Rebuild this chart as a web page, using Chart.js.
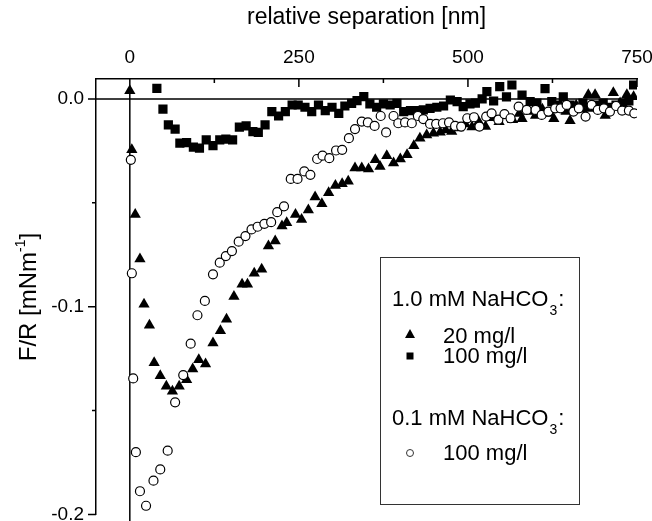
<!DOCTYPE html>
<html>
<head>
<meta charset="utf-8">
<script src="https://cdn.jsdelivr.net/npm/chart.js@4.4.0/dist/chart.umd.min.js"></script>
<style>
  body { margin: 0; background: #fff; }
  #wrap { width: 652px; height: 521px; }
</style>
</head>
<body>
<div id="wrap"><canvas id="chartForce" width="652" height="521"></canvas></div>
<script>
// 1.0 mM NaHCO3, 20 mg/l (filled triangles)
var triX = [0, 3, 8, 15, 21, 29, 36, 45, 54, 63, 73, 84, 93, 102, 112, 123, 134, 143, 154, 166,
  174, 184, 195, 205, 215, 225, 232, 245, 254, 264, 274, 284, 294, 304, 314, 323, 333, 343, 353, 363,
  370, 380, 390, 400, 410, 420, 429, 439, 449, 459, 467, 476, 486, 496, 506, 516, 526, 536, 546, 556,
  566, 576, 580, 590, 600, 610, 620, 627, 636, 645, 651, 660, 669, 678, 688, 697, 703, 715, 725, 735, 745];
var triY = [0.004, -0.0245, -0.0556, -0.077, -0.0988, -0.1089, -0.127, -0.1332, -0.1383, -0.1407, -0.1383, -0.1351, -0.130, -0.1255, -0.1276, -0.1175, -0.1116, -0.106, -0.0951, -0.0892,
  -0.0892, -0.0839, -0.082, -0.0708, -0.0684, -0.0612, -0.0596, -0.0556, -0.058, -0.0535, -0.0472, -0.0504, -0.0452, -0.0417, -0.0408, -0.0396, -0.0332, -0.0332, -0.0337, -0.0293,
  -0.0325, -0.0273, -0.0308, -0.0289, -0.0269, -0.0225, -0.0189, -0.0173, -0.0165, -0.016, -0.015, -0.0157, -0.014, -0.012, -0.0135, -0.011, -0.0133, -0.009, -0.011, -0.008,
  -0.010, -0.007, -0.0095, -0.006, -0.008, -0.005, -0.007, -0.0095, -0.004, -0.006, -0.0105, -0.003, -0.005, 0.002, 0.002, -0.004, -0.008, 0.003, -0.002, 0.002, 0.001];

// 1.0 mM NaHCO3, 100 mg/l (filled squares)
var sqX = [40, 49, 57, 67, 74, 84, 94, 103, 113, 123, 133, 142, 152, 162, 172, 182, 190, 200, 210, 220,
  230, 240, 249, 259, 269, 279, 289, 299, 309, 318, 328, 336, 346, 355, 365, 375, 385, 395, 405, 415,
  425, 434, 444, 454, 464, 474, 484, 493, 503, 511, 521, 528, 538, 547, 557, 565, 580, 592, 602, 614,
  624, 633, 641, 651, 660, 670, 680, 690, 700, 709, 719, 729, 738, 745];
var sqY = [0.0051, -0.0049, -0.0125, -0.0145, -0.0213, -0.021, -0.0232, -0.0237, -0.0197, -0.0225, -0.0197, -0.0193, -0.0197, -0.0136, -0.013, -0.0157, -0.0161, -0.0125, -0.0061, -0.0082,
  -0.0061, -0.0029, -0.0029, -0.004, -0.0061, -0.0029, -0.0056, -0.004, -0.0069, -0.0034, -0.0021, -0.0008, 0.0011, -0.0024, -0.004, -0.0024, -0.0029, -0.0021, -0.0061, -0.0056,
  -0.0056, -0.0053, -0.0045, -0.004, -0.0034, -0.0005, -0.0013, -0.0037, -0.0024, -0.002, 0.0, 0.0035, -0.001, 0.0059, 0.001, 0.0067, 0.0019, -0.0013, -0.002, 0.005,
  -0.0013, -0.003, 0.001, -0.003, -0.004, -0.002, -0.004, -0.003, -0.002, -0.004, -0.003, -0.002, -0.001, 0.0067];

// 0.1 mM NaHCO3, 100 mg/l (open circles)
var circX = [1.5, 3, 5, 9, 15, 24, 35, 45, 56, 67, 79, 90, 100, 111, 123, 133, 142, 151, 161, 171,
  180, 189, 199, 209, 218, 228, 238, 248, 258, 267, 277, 285, 295, 305, 314, 324, 333, 343, 352, 362,
  371, 379, 390, 397, 407, 417, 426, 434, 444, 453, 463, 472, 481, 490, 499, 509, 517, 527, 535, 545,
  554, 563, 575, 587, 600, 609, 619, 629, 637, 646, 656, 664, 674, 683, 692, 701, 710, 719, 728, 738, 746];
var circY = [-0.0293, -0.0839, -0.1345, -0.170, -0.1888, -0.1958, -0.1837, -0.1783, -0.1693, -0.146, -0.1329, -0.1178, -0.1041, -0.0972, -0.0844, -0.0788, -0.0756, -0.0732, -0.0687, -0.066,
  -0.0628, -0.0615, -0.0601, -0.0593, -0.0545, -0.0517, -0.0385, -0.0385, -0.0349, -0.0365, -0.0289, -0.0273, -0.0285, -0.0248, -0.0245, -0.0189, -0.0145, -0.0109, -0.0113, -0.013,
  -0.0082, -0.0161, -0.0082, -0.0117, -0.0113, -0.0117, -0.0082, -0.0097, -0.012, -0.012, -0.0117, -0.0113, -0.013, -0.0133, -0.0093, -0.0088, -0.0133, -0.0085, -0.0069, -0.010,
  -0.0073, -0.0093, -0.0037, -0.0053, -0.0053, -0.0077, -0.0061, -0.0045, -0.0045, -0.0029, -0.0061, -0.0045, -0.0085, -0.0029, -0.0053, -0.0045, -0.0061, -0.0034, -0.0056, -0.0056, -0.0069];

// ticks
var xMajor = [0, 250, 500, 750];
var xMinor = [125, 375, 625];
var yMajor = [0, -0.1, -0.2];
var yMinor = [-0.05, -0.15];

var FONT = '"Liberation Sans", Arial, sans-serif';

function toPoints(xs, ys) {
  return xs.map(function (x, i) {
    return { x: x, y: ys[i] };
  });
}

function tickList(major, minor) {
  return major.concat(minor).sort(function (a, b) { return a - b; }).map(function (v) {
    return { value: v };
  });
}

// keep the plot box where the reference has it
function noPad(scale) {
  scale.paddingLeft = 0;
  scale.paddingRight = 0;
  scale.paddingTop = 0;
  scale.paddingBottom = 0;
}

// zero lines, tick marks, legend box and y title
var axisDecor = {
  id: 'axisDecor',
  beforeDatasetsDraw: function (chart) {
    var ctx = chart.ctx;
    var a = chart.chartArea;
    var xs = chart.scales.x;
    var ys = chart.scales.y;
    ctx.save();
    ctx.strokeStyle = '#000';
    ctx.lineWidth = 1.5;
    ctx.beginPath();
    var y0 = ys.getPixelForValue(0);
    var x0 = xs.getPixelForValue(0);
    ctx.moveTo(a.left, y0);
    ctx.lineTo(a.right, y0);
    ctx.moveTo(x0, a.top);
    ctx.lineTo(x0, chart.height);
    xMajor.forEach(function (v) {
      var p = xs.getPixelForValue(v);
      ctx.moveTo(p, a.top);
      ctx.lineTo(p, a.top + 8);
    });
    xMinor.forEach(function (v) {
      var p = xs.getPixelForValue(v);
      ctx.moveTo(p, a.top);
      ctx.lineTo(p, a.top + 4);
    });
    yMajor.forEach(function (v) {
      var p = ys.getPixelForValue(v);
      ctx.moveTo(a.left - 8, p);
      ctx.lineTo(a.left, p);
    });
    yMinor.forEach(function (v) {
      var p = ys.getPixelForValue(v);
      ctx.moveTo(a.left - 4, p);
      ctx.lineTo(a.left, p);
    });
    ctx.stroke();
    ctx.restore();
  },
  afterDraw: function (chart) {
    var ctx = chart.ctx;
    ctx.save();
    ctx.fillStyle = '#000';
    ctx.textBaseline = 'alphabetic';
    ctx.textAlign = 'left';

    // y axis title with superscript
    ctx.save();
    ctx.translate(27, 297);
    ctx.rotate(-Math.PI / 2);
    ctx.font = '24px ' + FONT;
    var t1 = 'F/R [mNm';
    var w1 = ctx.measureText(t1).width;
    ctx.font = '14px ' + FONT;
    var w2 = ctx.measureText('-1').width;
    ctx.font = '24px ' + FONT;
    var w3 = ctx.measureText(']').width;
    var sx = -(w1 + w2 + w3) / 2;
    ctx.fillText(t1, sx, 9);
    ctx.font = '14px ' + FONT;
    ctx.fillText('-1', sx + w1, -2);
    ctx.font = '24px ' + FONT;
    ctx.fillText(']', sx + w1 + w2, 9);
    ctx.restore();

    // legend box
    ctx.strokeStyle = '#333';
    ctx.lineWidth = 1;
    ctx.strokeRect(380.5, 257.5, 199, 247);

    function header(txt, x, y) {
      ctx.font = '22px ' + FONT;
      ctx.fillText(txt, x, y);
      var w = ctx.measureText(txt).width;
      ctx.font = '14px ' + FONT;
      ctx.fillText('3', x + w + 1, y + 9);
      var ws = ctx.measureText('3').width;
      ctx.font = '22px ' + FONT;
      ctx.fillText(':', x + w + ws + 2, y);
    }
    header('1.0 mM NaHCO', 392, 306);
    header('0.1 mM NaHCO', 392, 425);

    ctx.font = '22px ' + FONT;
    ctx.fillText('20 mg/l', 443, 343);
    ctx.fillText('100 mg/l', 443, 363);
    ctx.fillText('100 mg/l', 443, 460);

    // legend markers
    ctx.beginPath();
    ctx.moveTo(410, 329);
    ctx.lineTo(405, 338);
    ctx.lineTo(415, 338);
    ctx.closePath();
    ctx.fill();
    ctx.fillRect(406.5, 352.5, 7, 7);
    ctx.beginPath();
    ctx.arc(410, 453, 3.5, 0, Math.PI * 2);
    ctx.fillStyle = '#fff';
    ctx.fill();
    ctx.stroke();
    ctx.restore();
  }
};

var configScatter = {
  type: 'scatter',
  data: {
    datasets: [
      {
        label: '0.1 mM NaHCO3, 100 mg/l',
        data: toPoints(circX, circY),
        pointStyle: 'circle',
        pointRadius: 4.5,
        backgroundColor: '#fff',
        borderColor: '#000',
        borderWidth: 1.2,
        clip: 0,
      },
      {
        label: '1.0 mM NaHCO3, 20 mg/l',
        data: toPoints(triX, triY),
        pointStyle: 'triangle',
        pointRadius: 6.5,
        backgroundColor: '#000',
        borderColor: '#000',
        borderWidth: 0,
        clip: 0,
      },
      {
        label: '1.0 mM NaHCO3, 100 mg/l',
        data: toPoints(sqX, sqY),
        pointStyle: 'rect',
        pointRadius: 6.5,
        backgroundColor: '#000',
        borderColor: '#000',
        borderWidth: 0,
        clip: 0,
      },
    ],
  },
  options: {
    responsive: false,
    animation: false,
    layout: { padding: { left: 0, right: 15, top: 0, bottom: 6 } },
    plugins: {
      legend: { display: false },
      tooltip: { enabled: false },
    },
    scales: {
      x: {
        type: 'linear',
        position: 'top',
        min: -50,
        max: 750,
        afterBuildTicks: function (scale) {
          scale.ticks = tickList(xMajor, xMinor);
        },
        afterFit: function (scale) {
          scale.height = 79;
          noPad(scale);
        },
        grid: { display: false, drawTicks: false },
        border: { display: true, color: '#000', width: 1.5 },
        ticks: {
          padding: 10,
          color: '#000',
          autoSkip: false,
          maxRotation: 0,
          font: { family: FONT, size: 19 },
          callback: function (v) {
            return xMajor.indexOf(v) >= 0 ? String(v) : '';
          },
        },
        title: {
          display: true,
          text: 'relative separation [nm]',
          color: '#000',
          font: { family: FONT, size: 23 },
          padding: { top: 4, bottom: 0 },
        },
      },
      y: {
        type: 'linear',
        min: -0.2,
        max: 0.0096,
        afterBuildTicks: function (scale) {
          scale.ticks = tickList(yMajor, yMinor);
        },
        afterFit: function (scale) {
          scale.width = 96;
          noPad(scale);
        },
        grid: { display: false, drawTicks: false },
        border: { display: true, color: '#000', width: 1.5 },
        ticks: {
          padding: 12,
          color: '#000',
          autoSkip: false,
          font: { family: FONT, size: 19 },
          callback: function (v) {
            return yMajor.indexOf(v) >= 0 ? v.toFixed(1) : '';
          },
        },
      },
    },
  },
  plugins: [axisDecor],
};

var chartScatter = new Chart(document.getElementById('chartForce'), configScatter);
</script>
</body>
</html>
